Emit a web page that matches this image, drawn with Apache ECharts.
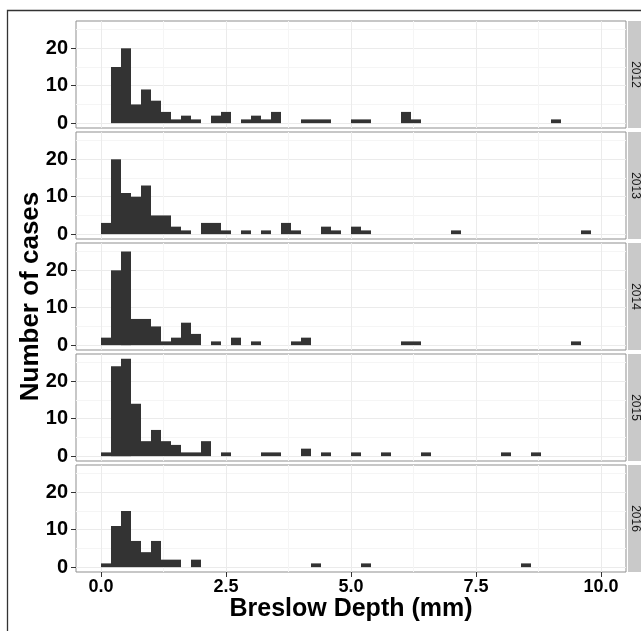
<!DOCTYPE html>
<html>
<head>
<meta charset="utf-8">
<script src="https://cdn.jsdelivr.net/npm/echarts@6/dist/echarts.min.js"></script>
<style>
html,body{margin:0;padding:0;background:#fff;}
#chart{width:641px;height:631px;}
</style>
</head>
<body>
<div id="chart"></div>
<script>
// ---- data ----
const years = ['2012', '2013', '2014', '2015', '2016'];
const binOrigin = 0.0;
const binWidth = 0.2;
// counts per 0.2 mm bin, starting at 0.0 mm
const counts2012 = [0,15,20,5,9,6,3,1,2,1, 0,2,3,0,1,2,1,3,0,0, 1,1,1,0,0,1,1,0,0,0, 3,1,0,0,0,0,0,0,0,0, 0,0,0,0,0,1,0,0,0,0];
const counts2013 = [3,20,11,10,13,5,5,2,1,0, 3,3,1,0,1,0,1,0,3,1, 0,0,2,1,0,2,1,0,0,0, 0,0,0,0,0,1,0,0,0,0, 0,0,0,0,0,0,0,0,1,0];
const counts2014 = [2,20,25,7,7,5,1,2,6,3, 0,1,0,2,0,1,0,0,0,1, 2,0,0,0,0,0,0,0,0,0, 1,1,0,0,0,0,0,0,0,0, 0,0,0,0,0,0,0,1,0,0];
const counts2015 = [1,24,26,14,4,7,4,3,1,1, 4,0,1,0,0,0,1,1,0,0, 2,0,1,0,0,1,0,0,1,0, 0,0,1,0,0,0,0,0,0,0, 1,0,0,1,0,0,0,0,0,0];
const counts2016 = [1,11,15,7,4,7,2,2,0,2, 0,0,0,0,0,0,0,0,0,0, 0,1,0,0,0,0,1,0,0,0, 0,0,0,0,0,0,0,0,0,0, 0,0,1,0,0,0,0,0,0,0];
const allCounts = [counts2012, counts2013, counts2014, counts2015, counts2016];
const xTicks = [0, 2.5, 5, 7.5, 10];
const xMinorTicks = [1.25, 3.75, 6.25, 8.75];
const yTicks = [0, 10, 20];
const yMinorTicks = [5, 15, 25];
const xLabel = 'Breslow Depth (mm)';
const yLabel = 'Number of cases';

// ---- layout ----
const L = 76, W = 550, H = 107, STEP = 111, TOP0 = 21;
const xMin = -0.5, xMax = 10.5, yMin = -1.3, yMax = 27.3;

const chart = echarts.init(document.getElementById('chart'), null, {renderer: 'canvas'});

const grids = [], xAxes = [], yAxes = [], series = [], graphics = [];
const fontFam = '"Liberation Sans", Arial, Helvetica, sans-serif';

years.forEach((yr, i) => {
  const top = TOP0 + i * STEP;
  grids.push({left: L, width: W, top: top, height: H, show: true,
    backgroundColor: '#ffffff', borderColor: '#8f8f8f', borderWidth: 1});
  const last = i === years.length - 1;
  // minor axes (grid lines only)
  xAxes.push({type: 'value', gridIndex: i, min: xMin, max: xMax, position: 'top',
    axisLine: {show: false, onZero: false}, axisLabel: {show: false, customValues: xMinorTicks},
    axisTick: {show: false, customValues: xMinorTicks},
    splitLine: {show: true, lineStyle: {color: '#f5f5f5', width: 1}}});
  yAxes.push({type: 'value', gridIndex: i, min: yMin, max: yMax, position: 'right',
    axisLine: {show: false, onZero: false}, axisLabel: {show: false, customValues: yMinorTicks},
    axisTick: {show: false, customValues: yMinorTicks},
    splitLine: {show: true, lineStyle: {color: '#f5f5f5', width: 1}}});
  // major axes
  xAxes.push({type: 'value', gridIndex: i, min: xMin, max: xMax, position: 'bottom',
    axisLine: {show: false, onZero: false},
    axisTick: {show: last, customValues: xTicks, length: 5, lineStyle: {color: '#333333', width: 1}},
    axisLabel: {show: last, customValues: xTicks, margin: 6,
      formatter: v => v.toFixed(1), color: '#000', fontWeight: 'bold', fontSize: 18, fontFamily: fontFam},
    splitLine: {show: true, lineStyle: {color: '#ebebeb', width: 1}},
    name: last ? xLabel : '', nameLocation: 'middle', nameGap: 22,
    nameTextStyle: {color: '#000', fontWeight: 'bold', fontSize: 25, fontFamily: fontFam}});
  yAxes.push({type: 'value', gridIndex: i, min: yMin, max: yMax, position: 'left',
    axisLine: {show: false, onZero: false},
    axisTick: {show: true, customValues: yTicks, length: 5, lineStyle: {color: '#333333', width: 1}},
    axisLabel: {show: true, customValues: yTicks, margin: 8,
      color: '#000', fontWeight: 'bold', fontSize: 20, fontFamily: fontFam},
    splitLine: {show: true, lineStyle: {color: '#ebebeb', width: 1}}});

  const data = [];
  allCounts[i].forEach((c, k) => {
    if (c > 0) {
      const x0 = binOrigin + k * binWidth;
      data.push([x0, x0 + binWidth, c]);
    }
  });
  series.push({type: 'custom', xAxisIndex: 2 * i + 1, yAxisIndex: 2 * i + 1,
    data: data, encode: {x: [0, 1], y: 2}, silent: true,
    renderItem: function (params, api) {
      const p0 = api.coord([api.value(0), 0]);
      const p1 = api.coord([api.value(1), api.value(2)]);
      return {type: 'rect',
        shape: {x: p0[0], y: p1[1], width: p1[0] - p0[0], height: p0[1] - p1[1]},
        style: {fill: '#333333'}};
    }});

  // strip
  graphics.push({type: 'rect', shape: {x: 628, y: top, width: 16, height: H},
    style: {fill: '#c9c9c9'}, silent: true});
  graphics.push({type: 'text', x: 635, y: top + H / 2, rotation: -Math.PI / 2,
    style: {text: yr, fill: '#1a1a1a', fontSize: 12, fontFamily: fontFam,
      align: 'center', verticalAlign: 'middle'}, silent: true});
});

// y label
graphics.push({type: 'text', x: 31, y: TOP0 + 2 * STEP + H / 2, rotation: Math.PI / 2,
  style: {text: yLabel, fill: '#000', fontSize: 26, fontWeight: 'bold', fontFamily: fontFam,
    align: 'center', verticalAlign: 'middle'}, silent: true});
// outer frame
graphics.push({type: 'rect', shape: {x: 7.5, y: 10.5, width: 700, height: 700},
  style: {fill: 'none', stroke: '#333333', lineWidth: 1.3}, silent: true, z: 100});

chart.setOption({
  animation: false,
  backgroundColor: '#ffffff',
  grid: grids,
  xAxis: xAxes,
  yAxis: yAxes,
  series: series,
  graphic: graphics
});
</script>
</body>
</html>
